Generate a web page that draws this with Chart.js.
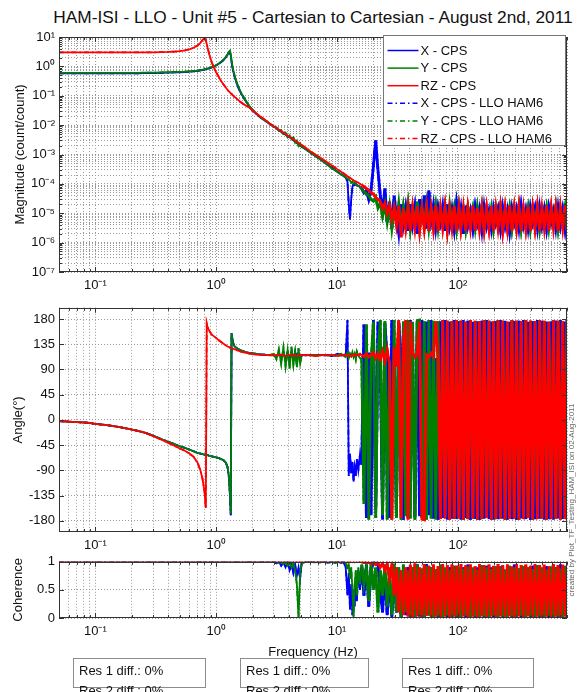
<!DOCTYPE html>
<html><head><meta charset="utf-8">
<script src="https://cdn.jsdelivr.net/npm/chart.js@4.4.0/dist/chart.umd.min.js"></script>
<style>
html,body{margin:0;padding:0;background:#fff;width:577px;height:692px;overflow:hidden;font-family:"Liberation Sans",Arial,Helvetica,sans-serif;color:#111;}
#wrap{position:relative;width:577px;height:692px;}
canvas{position:absolute;left:0;}
#title{position:absolute;left:0;width:626px;top:7px;text-align:center;font-size:17.3px;line-height:20px;white-space:nowrap;}
.resbox{position:absolute;top:658px;height:30px;border:1px solid #8c8c8c;font-size:13px;line-height:20px;padding:2px 0 0 5px;box-sizing:border-box;overflow:visible;white-space:nowrap;}
#credit{position:absolute;left:462px;top:495px;width:220px;height:10px;line-height:10px;font-size:8px;color:#666;text-align:center;transform:rotate(-90deg);transform-origin:50% 50%;white-space:nowrap;}
</style></head>
<body><div id="wrap">
<div id="title">HAM-ISI - LLO - Unit #5 - Cartesian to Cartesian - August 2nd, 2011</div>
<canvas id="c1" width="577" height="300" style="top:0px"></canvas>
<canvas id="c2" width="577" height="260" style="top:296px"></canvas>
<canvas id="c3" width="577" height="142" style="top:550px"></canvas>
<div class="resbox" style="left:73px;width:133px">Res 1 diff.: 0%<br>Res 2 diff.: 0%</div>
<div class="resbox" style="left:240px;width:129px">Res 1 diff.: 0%<br>Res 2 diff.: 0%</div>
<div class="resbox" style="left:402px;width:132px">Res 1 diff.: 0%<br>Res 2 diff.: 0%</div>
<div id="credit">created by Plot_TF_Testing_HAM_ISI on 02-Aug-2011</div>
</div>
<script>
// ---------------- DATA ----------------
const seriesNames = ['X - CPS','Y - CPS','RZ - CPS','X - CPS - LLO HAM6','Y - CPS - LLO HAM6','RZ - CPS - LLO HAM6'];

// frequency (Hz) – smooth part
const fLow = [0.05,0.06,0.07,0.085,0.1,0.12,0.15,0.18,0.22,0.26,
 0.3,0.35,0.4,0.45,0.5,0.55,0.6,0.65,0.7,0.74,
 0.77,0.8,0.82,0.835,0.85,0.88,0.92,0.96,1.0,1.05,
 1.1,1.15,1.2,1.24,1.27,1.3,1.32,1.34,1.37,1.42,
 1.5,1.6,1.75,1.9,2.1,2.3,2.6,2.8,3.0,3.15,
 3.3,3.45,3.6,3.75,3.9,4.05,4.2,4.35,4.5,4.65,
 4.8,4.95,5.1,5.5,6,6.6,7.2,7.8,8.4,9,
 9.6,10.2,10.8,11.3,11.8,12.2,12.5,12.8,13.1,13.4,
 13.7,14,14.3,14.6,15,15.5];
// frequency (Hz) – noisy part
const fHigh = [16,16.7,17.5,18.3,19.1,20,20.9,21.8,22.8,23.8,
 24.9,26,27.2,28.4,29.7,31,32.4,33.9,35.4,37,
 38.7,40.4,42.2,44.1,46.1,48.2,50.4,52.7,55,57.5,
 60.1,62.8,65.6,68.6,71.7,74.9,78.3,81.8,85.5,89.3,
 93.3,97.5,102,106,111,116,121,127,133,139,
 145,151,158,165,173,181,189,197,206,215,
 225,235,246,257,268,280,293,306,320,334,
 349,365,381,398,416,435,455,475,496,519,
 542,566,592,618,646,675,705,737,770,800];

// magnitude (count/count)
const magX_low = [0.58,0.58,0.58,0.58,0.58,0.58,0.58,0.58,0.58,0.59,
 0.59,0.6,0.61,0.62,0.63,0.64,0.66,0.68,0.7,0.73,
 0.75,0.78,0.8,0.82,0.83,0.87,0.93,1.0,1.08,1.22,
 1.4,1.65,2.0,2.45,2.9,3.0,2.3,1.4,0.8,0.44,
 0.22,0.12,0.068,0.04,0.026,0.019,0.0133,0.0107,0.0088,0.0078,
 0.0067,0.006,0.0052,0.0047,0.0042,0.0038,0.0035,0.0031,0.0027,0.0025,
 0.0022,0.002,0.0019,0.0015,0.00118,0.00089,0.0007,0.00055,0.00044,0.00036,
 0.0003,0.00025,0.00021,0.00019,0.00016,0.00012,0.00002,0.000006,0.00003,0.00008,
 0.0001,0.00009,0.0001,0.00009,0.000086,0.000078];
const magY_low = [0.6,0.6,0.6,0.6,0.6,0.6,0.6,0.6,0.6,0.61,
 0.61,0.62,0.63,0.64,0.65,0.66,0.68,0.7,0.72,0.75,
 0.77,0.8,0.82,0.84,0.85,0.89,0.95,1.02,1.1,1.25,
 1.45,1.7,2.1,2.6,3.1,3.4,2.6,1.6,0.9,0.48,
 0.24,0.13,0.07,0.042,0.027,0.019,0.0133,0.0107,0.0088,0.0085,
 0.0064,0.0068,0.005,0.0056,0.0039,0.0045,0.0033,0.0038,0.0025,0.003,
 0.002,0.0024,0.0018,0.0015,0.00118,0.00089,0.0007,0.00055,0.00044,0.00034,
 0.00029,0.00025,0.00021,0.00019,0.000165,0.00015,0.00014,0.00013,0.00011,0.00012,
 0.0001,0.000105,0.000095,0.00009,0.000086,0.000078];
const magRZ_low = [3,3,3,3,3,3,3,3,3,3,
 3,3.05,3.1,3.2,3.3,3.5,3.8,4.3,5.1,6.3,
 7.8,9.5,7.8,5.8,4.2,2.4,1.35,0.88,0.62,0.44,
 0.31,0.24,0.19,0.16,0.14,0.13,0.12,0.115,0.105,0.092,
 0.075,0.06,0.047,0.038,0.027,0.02,0.014,0.011,0.009,0.008,
 0.007,0.0062,0.0055,0.0049,0.0044,0.004,0.0036,0.0033,0.003,0.0027,
 0.0025,0.0023,0.0021,0.0017,0.0013,0.001,0.0008,0.00064,0.00052,0.00043,
 0.00036,0.0003,0.00026,0.00023,0.0002,0.00018,0.00017,0.00016,0.00015,0.00014,
 0.00013,0.000125,0.00012,0.000115,0.00011,0.0001];
const magX_high = [7e-5,5e-5,6e-5,3e-5,6e-5,4e-4,3e-3,3e-4,4e-5,1.2e-5,
 7e-5,5e-6,2.5e-5,3e-6,4e-5,8e-6,2e-6,2e-5,4e-6,1.5e-5,
 2.5e-6,2e-5,4e-6,1.6e-5,2e-6,3e-5,5e-6,4e-5,3e-6,6e-5,
 6e-6,2e-5,3e-6,1.5e-5,5e-6,1.8e-5,2.5e-6,2e-5,4e-6,1.4e-5,
 3e-6,2.2e-5,5e-6,1.5e-5,2e-6,1.8e-5,4e-6,1.2e-5,3e-6,1.6e-5,
 5e-6,1.3e-5,2.5e-6,1.7e-5,4e-6,1.2e-5,3e-6,1.5e-5,5e-6,1.3e-5,
 3e-6,1.6e-5,4e-6,1.2e-5,2.5e-6,1.5e-5,5e-6,1.3e-5,3e-6,1.7e-5,
 4e-6,1.2e-5,3e-6,1.5e-5,5e-6,1.4e-5,3e-6,1.6e-5,4e-6,1.3e-5,
 3e-6,1.5e-5,5e-6,1.2e-5,3e-6,1.6e-5,4e-6,1.3e-5,3e-6,1.4e-5];
const magY_high = [6.5e-5,5.5e-5,4.5e-5,4e-5,3e-5,2.6e-5,3.5e-5,1.5e-5,2.2e-5,8e-6,
 2e-5,5e-6,1.8e-5,3e-6,1.5e-5,5e-6,2.2e-5,3e-6,1.6e-5,4e-6,
 2e-5,3e-6,1.4e-5,5e-6,2.5e-5,3e-6,1.6e-5,4e-6,2e-5,3e-6,
 1.5e-5,5e-6,1.8e-5,3e-6,1.4e-5,4e-6,1.6e-5,3e-6,2e-5,5e-6,
 1.5e-5,3e-6,1.7e-5,4e-6,1.3e-5,3e-6,1.6e-5,5e-6,1.4e-5,3e-6,
 1.5e-5,4e-6,1.6e-5,3e-6,1.3e-5,5e-6,1.5e-5,3e-6,1.4e-5,4e-6,
 1.6e-5,3e-6,1.3e-5,5e-6,1.5e-5,3e-6,1.4e-5,4e-6,1.6e-5,3e-6,
 1.3e-5,5e-6,1.5e-5,3e-6,1.4e-5,4e-6,1.6e-5,3e-6,1.3e-5,5e-6,
 1.5e-5,3e-6,1.4e-5,4e-6,1.6e-5,3e-6,1.3e-5,5e-6,1.5e-5,3e-6];
const magRZ_high = [9e-5,8e-5,7e-5,6e-5,5e-5,4.5e-5,3.5e-5,3e-5,2.5e-5,1.5e-5,
 2.2e-5,1e-5,1.8e-5,6e-6,1.5e-5,4e-6,1.8e-5,1.5e-6,1.4e-5,3e-6,
 1.6e-5,2.5e-6,1.5e-5,3e-6,1.7e-5,2.5e-6,1.4e-5,3e-6,1.6e-5,2.5e-6,
 1.5e-5,3e-6,1.8e-5,2.5e-6,1.5e-5,3e-6,1.6e-5,2.5e-6,1.4e-5,3e-6,
 1.7e-5,2.5e-6,1.5e-5,3e-6,1.6e-5,2.5e-6,1.5e-5,3e-6,1.8e-5,2.5e-6,
 1.5e-5,3e-6,1.6e-5,2.5e-6,1.5e-5,3e-6,1.7e-5,2.5e-6,1.5e-5,3e-6,
 1.6e-5,2.5e-6,1.5e-5,3e-6,1.8e-5,2.5e-6,1.5e-5,3e-6,1.6e-5,2.5e-6,
 1.5e-5,3e-6,1.7e-5,2.5e-6,1.5e-5,3e-6,1.6e-5,2.5e-6,1.5e-5,3e-6,
 1.8e-5,2.5e-6,1.5e-5,3e-6,1.6e-5,2.5e-6,1.5e-5,3e-6,1.7e-5,2.5e-6];

// phase (degrees)
const phX_low = [-2,-3,-4,-5,-7,-9,-12,-15,-19,-23,
 -28,-34,-39,-43,-47,-50,-53,-56,-59,-60,
 -61,-62,-62,-63,-63,-64,-65,-66,-67,-68,
 -70,-72,-76,-84,-100,-135,-170,155,140,131,
 127,124,121,119,118,117,116,116,116,113,
 118,112,120,109,121,110,118,108,122,111,
 119,113,116,115,116,115,116,115,116,114,
 116,118,115,116,117,178,-100,-60,-95,-75,
 -110,-85,-100,-70,-90,-60];
const phY_low = [-2,-3,-4,-5,-7,-9,-12,-15,-19,-23,
 -28,-34,-39,-43,-47,-50,-53,-56,-59,-60,
 -61,-62,-62,-63,-63,-64,-65,-66,-67,-68,
 -70,-72,-76,-84,-98,-130,-168,154,139,131,
 127,124,121,119,118,117,116,116,118,108,
 126,100,129,95,125,92,131,98,122,94,
 128,100,115,116,115,116,115,116,115,116,
 114,116,118,115,112,120,110,118,114,121,
 112,118,108,122,115,110];
const phRZ_low = [-2,-3,-4,-5,-7,-9,-12,-15,-19,-23,
 -29,-35,-41,-46,-51,-55,-60,-66,-76,-90,
 -105,-128,-157,172,165,158,152,149,146,142,
 139,136,133,131,130,129,128,128,127,126,
 124,122,120,118,117,116,116,115,115,116,
 115,116,115,114,115,116,115,116,115,114,
 115,116,115,116,115,114,115,116,115,116,
 115,114,116,115,117,114,116,115,113,116,
 115,117,114,116,115,118];
const phX_high = [-80,170,-175,120,-170,178,-160,175,100,-178,
 172,110,-175,178,105,-172,175,115,-178,170,
 -175,178,100,-176,176,-172,178,-178,175,-170,
 178,-176,110,-178,176,-175,178,-178,175,-176,
 178,-177,176,-178,178,-175,177,-178,175,-177,
 176,-178,177,-176,178,-177,175,-178,176,-177,
 178,-176,177,-178,175,-177,176,-178,177,-176,
 178,-177,175,-178,176,-177,178,-176,177,-178,
 175,-177,176,-178,177,-176,178,-177,175,-178];
const phY_high = [110,-150,170,-178,100,175,-175,120,178,-170,
 176,-178,105,-176,178,-175,170,-178,176,-172,
 178,-176,175,-178,177,178,-175,176,-178,178,
 -176,177,-178,176,-177,178,-175,177,-178,176,
 -177,178,-176,177,-178,175,-177,178,-176,177,
 -178,176,-177,178,-175,177,-178,176,-177,178,
 -176,177,-178,175,-177,178,-176,177,-178,176,
 -177,178,-175,177,-178,176,-177,178,-176,177,
 -178,175,-177,178,-176,177,-178,176,-177,178];
const phRZ_high = [115,113,118,112,116,120,110,118,108,122,
 105,125,100,-178,130,95,178,-175,140,178,
 -178,176,120,112,118,175,-177,-178,116,112,
 119,113,176,115,-177,178,-176,177,-178,176,
 -177,178,-176,177,-178,175,-177,178,-176,177,
 -178,176,-177,178,-175,177,-178,176,-177,178,
 -176,177,-178,175,-177,178,-176,177,-178,176,
 -177,178,-175,177,-178,176,-177,178,-176,177,
 -178,175,-177,178,-176,177,-178,176,-177,178];

// coherence
const cohX_low = [1,1,1,1,1,1,1,1,1,1,
 1,1,1,1,1,1,1,1,1,1,
 1,1,1,1,1,1,1,1,1,1,
 1,1,1,1,1,1,1,1,1,1,
 1,1,1,1,1,1,1,1,1,0.97,
 1,0.93,0.99,0.9,1,0.85,0.97,0.8,0.95,0.75,
 0.9,0.7,0.98,1,1,1,0.99,1,0.98,1,
 0.99,1,0.98,1,0.9,0.4,0.8,0.15,0.6,0.05,
 0.5,0.2,0.7,0.3,0.85,0.5];
const cohY_low = [1,1,1,1,1,1,1,1,1,1,
 1,1,1,1,1,1,1,1,1,1,
 1,1,1,1,1,1,1,1,1,1,
 1,1,1,1,1,1,1,1,1,1,
 1,1,1,1,1,1,1,1,1,0.99,
 0.98,1,0.96,0.99,0.93,1,0.9,0.97,0.85,0.6,
 0.02,0.8,0.97,1,1,0.99,1,1,0.99,1,
 0.98,1,0.99,1,0.98,0.9,0.95,0.7,0.9,0.5,
 0.02,0.6,0.85,0.4,0.9,0.6];
const cohRZ_low = [1,1,1,1,1,1,1,1,1,1,
 1,1,1,1,1,1,1,1,1,1,
 1,1,1,1,1,1,1,1,1,1,
 1,1,1,1,1,1,1,1,1,1,
 1,1,1,1,1,1,1,1,1,1,
 1,1,1,1,1,1,1,1,1,1,
 1,1,1,1,1,1,1,1,1,1,
 1,1,1,1,1,0.99,1,0.99,1,0.99,
 1,0.99,1,0.99,1,1];
const cohX_high = [0.9,0.4,0.95,0.2,0.85,0.99,1,0.97,0.5,0.1,
 0.8,0.05,0.7,0.02,0.9,0.1,0.6,0.02,0.8,0.05,
 0.9,0.02,0.7,0.01,0.95,0.03,0.85,0.02,0.96,0.05,
 0.9,0.03,0.8,0.02,0.95,0.04,0.85,0.02,0.9,0.03,
 0.92,0.02,0.85,0.03,0.9,0.02,0.95,0.04,0.88,0.02,
 0.9,0.03,0.86,0.02,0.93,0.03,0.9,0.02,0.87,0.04,
 0.92,0.02,0.85,0.03,0.9,0.02,0.95,0.04,0.88,0.02,
 0.9,0.03,0.86,0.02,0.93,0.03,0.9,0.02,0.87,0.04,
 0.92,0.02,0.85,0.03,0.9,0.02,0.95,0.04,0.88,0.02];
const cohY_high = [0.95,0.6,0.9,0.3,0.97,0.5,0.9,0.1,0.85,0.4,
 0.95,0.2,0.9,0.05,0.97,0.1,0.9,0.02,0.95,0.1,
 0.85,0.03,0.9,0.02,0.95,0.05,0.88,0.02,0.93,0.04,
 0.9,0.02,0.87,0.03,0.94,0.02,0.9,0.04,0.86,0.02,
 0.93,0.03,0.9,0.02,0.88,0.04,0.92,0.02,0.9,0.03,
 0.86,0.02,0.94,0.03,0.9,0.02,0.87,0.04,0.92,0.02,
 0.9,0.03,0.86,0.02,0.93,0.03,0.9,0.02,0.88,0.04,
 0.92,0.02,0.9,0.03,0.87,0.02,0.94,0.03,0.9,0.02,
 0.86,0.04,0.92,0.02,0.9,0.03,0.88,0.02,0.93,0.03];
const cohRZ_high = [1,0.99,0.98,0.99,0.97,0.98,0.95,0.98,0.9,0.97,
 0.85,0.96,0.7,0.95,0.4,0.9,0.1,0.85,0.05,0.9,
 0.03,0.95,0.02,0.97,0.03,0.9,0.02,0.96,0.04,0.93,
 0.02,0.95,0.03,0.92,0.02,0.96,0.03,0.94,0.02,0.95,
 0.03,0.93,0.02,0.96,0.03,0.94,0.02,0.95,0.03,0.92,
 0.02,0.96,0.03,0.94,0.02,0.95,0.03,0.93,0.02,0.96,
 0.03,0.94,0.02,0.95,0.03,0.92,0.02,0.96,0.03,0.94,
 0.02,0.95,0.03,0.93,0.02,0.96,0.03,0.94,0.02,0.95,
 0.03,0.92,0.02,0.96,0.03,0.94,0.02,0.95,0.03,0.93];

// tick labels
const xTickValues = [0.1, 1, 10, 100];
const xTickLabels = ['10\u207B\u00B9', '10\u2070', '10\u00B9', '10\u00B2'];
const magTickValues = [1e-7,1e-6,1e-5,1e-4,1e-3,1e-2,1e-1,1,10];
const magTickLabels = ['10\u207B\u2077','10\u207B\u2076','10\u207B\u2075','10\u207B\u2074','10\u207B\u00B3','10\u207B\u00B2','10\u207B\u00B9','10\u2070','10\u00B9'];
const angTickValues = [-180,-135,-90,-45,0,45,90,135,180];
const angTickLabels = ['-180','-135','-90','-45','0','45','90','135','180'];
const cohTickValues = [0, 0.5, 1];
const cohTickLabels = ['0','0.5','1'];

// ---------------- BUILD ----------------
const FONT = '"Liberation Sans", Arial, Helvetica, sans-serif';
const freq = fLow.concat(fHigh);
function join(a, b, name) {
  const r = a.concat(b);
  if (r.length !== freq.length) throw new Error(name + ' length ' + r.length + ' vs ' + freq.length);
  return r;
}
const magX = join(magX_low, magX_high, 'magX'), magY = join(magY_low, magY_high, 'magY'), magRZ = join(magRZ_low, magRZ_high, 'magRZ');
const phX = join(phX_low, phX_high, 'phX'), phY = join(phY_low, phY_high, 'phY'), phRZ = join(phRZ_low, phRZ_high, 'phRZ');
const cohX = join(cohX_low, cohX_high, 'cohX'), cohY = join(cohY_low, cohY_high, 'cohY'), cohRZ = join(cohRZ_low, cohRZ_high, 'cohRZ');

function pts(v) { return freq.map((f, i) => ({x: f, y: v[i]})); }
const COL = ['#0000ff', '#008000', '#ff0000'];
const DASHDOT = [5, 3, 1.5, 3];
const NOISE_START = fHigh[0];
function datasets(xv, yv, zv) {
  const vals = [xv, yv, zv];
  const out = [];
  for (let k = 0; k < 6; k++) {
    const s = k % 3;
    out.push({
      label: seriesNames[k], data: pts(vals[s]), borderColor: COL[s], backgroundColor: COL[s],
      borderDash: k >= 3 ? DASHDOT : [], borderWidth: 1.8, pointRadius: 0, tension: 0, fill: false,
      segment: {borderWidth: c => (c.p0.parsed.x >= NOISE_START ? 2.8 : 1.8)},
      // solid lines on top (order 0..2), dash-dot beneath (order 3..5)
      order: k < 3 ? (2 - k) : (5 - (k - 3))
    });
  }
  return out;
}

function near(a, b) { return Math.abs(Math.log10(a) - Math.log10(b)) < 1e-6; }
const xGridValues = [];
for (let e = -2; e <= 2; e++) for (let k = 1; k <= 9; k++) {
  const v = Number((k * Math.pow(10, e)).toPrecision(4));
  if (v >= 0.05 && v <= 800) xGridValues.push(v);
}
const magGridValues = [];
for (let e = -7; e <= 0; e++) for (let k = 1; k <= 9; k++) magGridValues.push(Number((k * Math.pow(10, e)).toPrecision(4)));
magGridValues.push(10);

const GRID = {color: '#9a9a9a', lineWidth: 1, drawTicks: false};
const BORDER = {display: false, dash: [1, 2]};
const TICKFONT = {size: 13, family: FONT};

function xScale(height, title) {
  return {
    type: 'logarithmic', min: 0.05, max: 800, position: 'bottom',
    afterBuildTicks: s => { s.ticks = xGridValues.map(v => ({value: v})); },
    afterFit: s => { s.height = height; },
    ticks: {autoSkip: false, maxRotation: 0, minRotation: 0, padding: 6, color: '#111', font: TICKFONT,
      callback: v => { const i = xTickValues.findIndex(t => near(t, v)); return i >= 0 ? xTickLabels[i] : ''; }},
    grid: GRID, border: BORDER,
    title: title || {display: false}
  };
}

// inside tick marks + box (MATLAB style)
function boxPlugin(majorY) {
  return {
    id: 'mbox',
    afterDatasetsDraw(chart) {
      const {ctx, chartArea: a, scales} = chart;
      ctx.save();
      ctx.setLineDash([]);
      ctx.strokeStyle = '#333';
      ctx.lineWidth = 1;
      const seg = (x1, y1, x2, y2) => { ctx.beginPath(); ctx.moveTo(x1, y1); ctx.lineTo(x2, y2); ctx.stroke(); };
      scales.x.ticks.forEach(t => {
        const p = Math.round(scales.x.getPixelForValue(t.value)) + 0.5;
        const L = xTickValues.some(m => near(m, t.value)) ? 5 : 3;
        seg(p, a.bottom, p, a.bottom - L); seg(p, a.top, p, a.top + L);
      });
      scales.y.ticks.forEach(t => {
        const p = Math.round(scales.y.getPixelForValue(t.value)) + 0.5;
        const L = majorY(t.value) ? 5 : 3;
        seg(a.left, p, a.left + L, p); seg(a.right, p, a.right - L, p);
      });
      ctx.strokeRect(Math.round(a.left) + 0.5, Math.round(a.top) + 0.5, Math.round(a.width) - 1, Math.round(a.height) - 1);
      ctx.restore();
    }
  };
}

const legendPlugin = {
  id: 'mlegend',
  afterDraw(chart) {
    const {ctx, chartArea: a} = chart;
    const w = 182, h = 110;
    const x0 = Math.round(a.right - w - 2) + 0.5, y0 = Math.round(a.top - 2) + 0.5;
    ctx.save();
    ctx.fillStyle = '#fff';
    ctx.fillRect(x0, y0, w, h);
    ctx.strokeStyle = '#777';
    ctx.lineWidth = 1;
    ctx.setLineDash([]);
    ctx.strokeRect(x0, y0, w, h);
    ctx.font = '13px ' + FONT;
    ctx.textBaseline = 'middle';
    chart.data.datasets.forEach((d, i) => {
      const y = y0 + 15 + i * 17.6;
      ctx.strokeStyle = d.borderColor;
      ctx.lineWidth = 1.5;
      ctx.setLineDash(d.borderDash || []);
      ctx.beginPath(); ctx.moveTo(x0 + 4, y); ctx.lineTo(x0 + 35, y); ctx.stroke();
      ctx.fillStyle = '#111';
      ctx.fillText(d.label, x0 + 37, y + 0.5);
    });
    ctx.restore();
  }
};

function makeChart(id, dsets, yScale, padTop, xHeight, xTitle, plugins) {
  return new Chart(document.getElementById(id), {
    type: 'line',
    data: {datasets: dsets},
    options: {
      responsive: false, animation: false, devicePixelRatio: 1, normalized: true,
      layout: {padding: {left: 0, right: 10, top: padTop, bottom: 0}},
      plugins: {legend: {display: false}, tooltip: {enabled: false}},
      scales: {x: xScale(xHeight, xTitle), y: yScale}
    },
    plugins: plugins
  });
}

const yTitle = (text, pad) => ({display: true, text, color: '#111', font: {size: 13, family: FONT}, padding: {top: pad, bottom: 0}});

// Magnitude
makeChart('c1', datasets(magX, magY, magRZ), {
  type: 'logarithmic', min: 1e-7, max: 10,
  afterBuildTicks: s => { s.ticks = magGridValues.map(v => ({value: v})); },
  afterFit: s => { s.width = 59; },
  ticks: {autoSkip: false, padding: 4, color: '#111', font: TICKFONT,
    callback: v => { const i = magTickValues.findIndex(t => near(t, v)); return i >= 0 ? magTickLabels[i] : ''; }},
  grid: GRID, border: BORDER,
  title: yTitle('Magnitude (count/count)', 13)
}, 37, 28, null, [boxPlugin(v => magTickValues.some(m => near(m, v))), legendPlugin]);

// Phase
makeChart('c2', datasets(phX, phY, phRZ), {
  type: 'linear', min: -200, max: 200,
  afterBuildTicks: s => { s.ticks = angTickValues.map(v => ({value: v})); },
  afterFit: s => { s.width = 59; },
  ticks: {autoSkip: false, padding: 4, color: '#111', font: TICKFONT,
    callback: v => { const i = angTickValues.indexOf(v); return i >= 0 ? angTickLabels[i] : ''; }},
  grid: GRID, border: BORDER,
  title: yTitle('Angle(\u00B0)', 11)
}, 8, 24, null, [boxPlugin(() => true)]);

// Coherence
makeChart('c3', datasets(cohX, cohY, cohRZ), {
  type: 'linear', min: 0, max: 1,
  afterBuildTicks: s => { s.ticks = cohTickValues.map(v => ({value: v})); },
  afterFit: s => { s.width = 59; },
  ticks: {autoSkip: false, padding: 4, color: '#111', font: TICKFONT,
    callback: v => { const i = cohTickValues.indexOf(v); return i >= 0 ? cohTickLabels[i] : ''; }},
  grid: GRID, border: BORDER,
  title: yTitle('Coherence', 11)
}, 7, 74, {display: true, text: 'Frequency (Hz)', color: '#111', font: {size: 13, family: FONT}, padding: {top: 0, bottom: 32}},
 [boxPlugin(() => true)]);
</script>
</body></html>
